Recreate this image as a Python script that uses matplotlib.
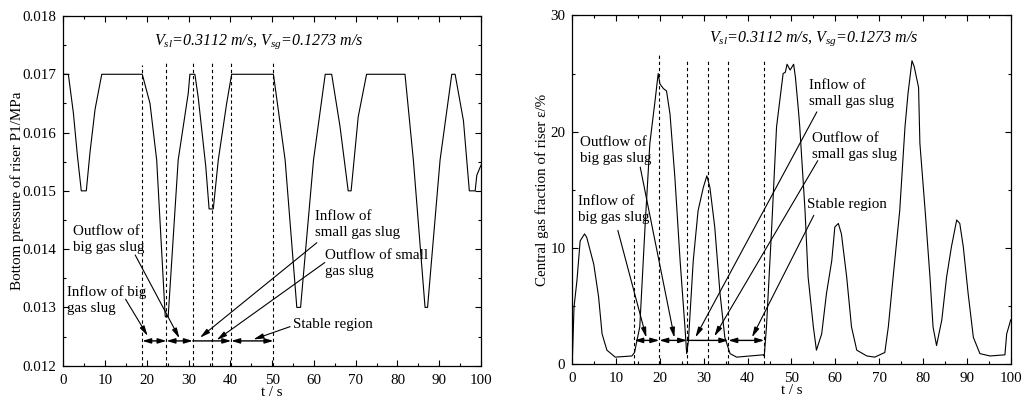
import numpy as np
import matplotlib
matplotlib.use("Agg")
import matplotlib.pyplot as plt
from matplotlib.ticker import MultipleLocator, FormatStrFormatter

plt.rcParams['font.family'] = ['Liberation Serif', 'DejaVu Serif']
plt.rcParams['mathtext.fontset'] = 'custom'
plt.rcParams['mathtext.it'] = 'Liberation Serif:italic'
plt.rcParams['mathtext.rm'] = 'Liberation Serif:italic'

# bottom pressure of the riser, P1 (MPa)
t_p = [0, 1.2, 2.4, 3.35, 4.3, 5.5, 6.4, 7.6, 9.2, 18.9, 20.75, 22.35, 24.4, 25.1,
       27.5, 29.9, 30.3, 31.5, 32.3, 34.1, 34.9, 35.9, 37.1, 39.1, 40.3, 50.3,
       53.1, 55.9, 56.8, 59.9, 62.7, 64.25, 66.25, 68.2, 68.9, 70.6, 72.6, 81.8,
       83.8, 86.6, 87.2, 90.2, 93.0, 93.8, 95.8, 97.2, 98.6, 99.0, 100]
p1 = [0.017, 0.017, 0.01634, 0.01562, 0.0150, 0.0150, 0.01567, 0.01640, 0.017, 0.017,
      0.0165, 0.01553, 0.01284, 0.01284, 0.01553, 0.01667, 0.017, 0.017, 0.0166,
      0.01542, 0.01469, 0.01469, 0.01553, 0.0165, 0.017, 0.017, 0.01553, 0.0130,
      0.0130, 0.01553, 0.017, 0.017, 0.0161, 0.0150, 0.0150, 0.01627, 0.017, 0.017,
      0.01553, 0.0130, 0.0130, 0.01553, 0.017, 0.017, 0.0162, 0.0150, 0.0150,
      0.01527, 0.01544]

# central gas fraction of the riser, epsilon (%)
t_e = [0, 0.4, 1.07, 1.8, 2.8, 3.3, 4.9, 6.0, 6.8, 7.9, 9.8, 13.6, 14.2, 15.4, 16.6,
       17.7, 18.9, 19.6, 20.0, 20.8, 21.5, 22.3, 23.4, 24.6, 25.7, 26.1, 26.5, 27.6,
       28.7, 29.9, 30.7, 31.4, 32.5, 33.7, 34.8, 36.0, 37.5, 43.6, 43.8, 44.3, 45.5,
       46.6, 48.1, 48.6, 49.0, 49.7, 50.5, 50.9, 51.6, 51.9, 53.1, 53.8, 55.0, 55.7,
       56.9, 58.0, 59.2, 59.9, 60.7, 61.4, 62.6, 63.7, 64.9, 67.2, 69.0, 71.3, 72.1,
       73.2, 74.7, 75.9, 76.6, 77.5, 78.0, 79.0, 79.3, 80.5, 81.6, 82.3, 83.1, 84.3,
       85.4, 86.5, 87.7, 88.4, 89.2, 90.3, 91.5, 93.0, 95.3, 98.7, 99.1, 99.8, 100]
eps = [0.1, 4.9, 7.2, 10.6, 11.2, 10.9, 8.6, 5.8, 2.6, 1.2, 0.6, 0.7, 1.0, 3.2, 11.8,
       19.0, 22.7, 25.0, 24.1, 23.7, 23.5, 21.5, 16.1, 8.9, 3.2, 0.9, 2.0, 8.9, 13.2,
       15.2, 16.2, 15.2, 11.8, 6.1, 2.3, 0.9, 0.6, 0.8, 0.7, 3.2, 11.8, 20.4, 25.0,
       25.1, 25.8, 25.3, 25.8, 24.7, 21.8, 20.4, 13.2, 7.5, 3.2, 1.2, 2.6, 6.1, 8.9,
       11.8, 12.1, 11.2, 7.5, 3.2, 1.2, 0.7, 0.6, 1.0, 3.2, 7.5, 13.2, 20.4, 23.3,
       26.1, 25.6, 23.8, 19.0, 13.2, 7.5, 3.2, 1.6, 3.8, 7.5, 10.1, 12.4, 12.1, 10.1,
       6.1, 2.3, 0.9, 0.7, 0.8, 2.6, 3.5, 3.8]

# stage boundaries (s)
bounds_p = [18.9, 24.7, 31.0, 35.6, 40.2, 50.3]
bounds_e = [14.15, 19.85, 26.2, 30.9, 35.6, 43.8]
dash_top_p = [0.01716, 0.01722, 0.01722, 0.01722, 0.01722, 0.01722]
dash_top_e = [10.9, 26.6, 26.2, 26.2, 26.2, 26.2]

title = r'$V_{sl}$=0.3112 m/s, $V_{sg}$=0.1273 m/s'
fs = 10.8
ls = 1.3

fig = plt.figure(figsize=(10.23, 4.03), dpi=100)
ax1 = fig.add_axes([0.0619, 0.0926, 0.4083, 0.8677])
ax2 = fig.add_axes([0.5594, 0.0965, 0.4285, 0.8653])


def style(ax):
    ax.set_xlim(0, 100)
    ax.xaxis.set_major_locator(MultipleLocator(10))
    ax.xaxis.set_minor_locator(MultipleLocator(5))
    ax.tick_params(which='both', direction='in', top=True, right=True,
                   labelsize=fs, width=0.8)
    ax.tick_params(which='major', length=4.5)
    ax.tick_params(which='minor', length=2.5)
    ax.tick_params(axis='y', pad=5)
    ax.tick_params(axis='x', pad=6)
    for s in ax.spines.values():
        s.set_linewidth(0.9)
    ax.set_xlabel('t / s', fontsize=fs, labelpad=-1)


def arrow(ax, text_xy, tip_xy):
    ax.annotate('', xy=tip_xy, xytext=text_xy,
                arrowprops=dict(arrowstyle='-|>,head_length=0.6,head_width=0.15',
                                color='black', lw=0.8, shrinkA=0, shrinkB=0))


def span(ax, a, b, y, style='<|-|>,head_length=0.5,head_width=0.15'):
    ax.annotate('', xy=(b, y), xytext=(a, y),
                arrowprops=dict(arrowstyle=style, color='black', lw=1.0,
                                shrinkA=0, shrinkB=0))


def stages(ax, bounds, y):
    span(ax, bounds[0], bounds[1], y)
    span(ax, bounds[1], bounds[2], y)
    span(ax, bounds[2], bounds[3], y, style='-')
    span(ax, bounds[3], bounds[4], y, style='-|>,head_length=0.5,head_width=0.15')
    span(ax, bounds[4], bounds[5], y)


def note(ax, x, y, s):
    ax.text(x, y, s, fontsize=fs, va='center', linespacing=ls)


# left panel: pressure
ax1.plot(t_p, p1, color='black', lw=0.8)
ax1.set_ylim(0.012, 0.018)
ax1.yaxis.set_major_locator(MultipleLocator(0.001))
ax1.yaxis.set_minor_locator(MultipleLocator(0.0005))
ax1.yaxis.set_major_formatter(FormatStrFormatter('%.3f'))
style(ax1)
ax1.set_ylabel('Bottom pressure of riser P1/MPa', fontsize=fs, labelpad=-1)
for b, top in zip(bounds_p, dash_top_p):
    ax1.plot([b, b], [0.012, top], color='black', lw=0.8, ls=(0, (3, 2.5)))
stages(ax1, bounds_p, 0.012425)
ax1.text(46.8, 0.01756, title, fontsize=11.5, style='italic', ha='center', va='center')

note(ax1, 2.2, 0.01416, 'Outflow of\nbig gas slug')
arrow(ax1, (17.2, 0.0139), (27.8, 0.01247))
note(ax1, 0.8, 0.01313, 'Inflow of big\ngas slug')
arrow(ax1, (14.9, 0.01314), (20.2, 0.01251))
note(ax1, 60.3, 0.01443, 'Inflow of\nsmall gas slug')
arrow(ax1, (60.7, 0.01411), (32.7, 0.01248))
note(ax1, 62.6, 0.01375, 'Outflow of small\ngas slug')
arrow(ax1, (62.6, 0.01377), (36.7, 0.01244))
note(ax1, 55.0, 0.0127, 'Stable region')
arrow(ax1, (54.3, 0.01267), (45.5, 0.01245))

# right panel: gas fraction
ax2.plot(t_e, eps, color='black', lw=0.8)
ax2.set_ylim(0, 30)
ax2.yaxis.set_major_locator(MultipleLocator(10))
ax2.yaxis.set_minor_locator(MultipleLocator(5))
style(ax2)
ax2.set_ylabel('Central gas fraction of riser ε/%', fontsize=fs, labelpad=1)
for b, top in zip(bounds_e, dash_top_e):
    ax2.plot([b, b], [0, top], color='black', lw=0.8, ls=(0, (3, 2.5)))
stages(ax2, bounds_e, 2.04)
ax2.text(55.1, 28.0, title, fontsize=11.5, style='italic', ha='center', va='center')

note(ax2, 1.7, 18.35, 'Outflow of\nbig gas slug')
arrow(ax2, (15.5, 16.95), (23.3, 2.27))
note(ax2, 1.3, 13.3, 'Inflow of\nbig gas slug')
arrow(ax2, (10.4, 11.5), (16.9, 2.27))
note(ax2, 53.9, 23.3, 'Inflow of\nsmall gas slug')
arrow(ax2, (55.8, 21.7), (28.1, 2.3))
note(ax2, 54.7, 18.75, 'Outflow of\nsmall gas slug')
arrow(ax2, (56.0, 17.5), (32.4, 2.38))
note(ax2, 53.5, 13.7, 'Stable region')
arrow(ax2, (55.1, 12.8), (41.0, 2.3))

fig.savefig('out.png', dpi=100)
